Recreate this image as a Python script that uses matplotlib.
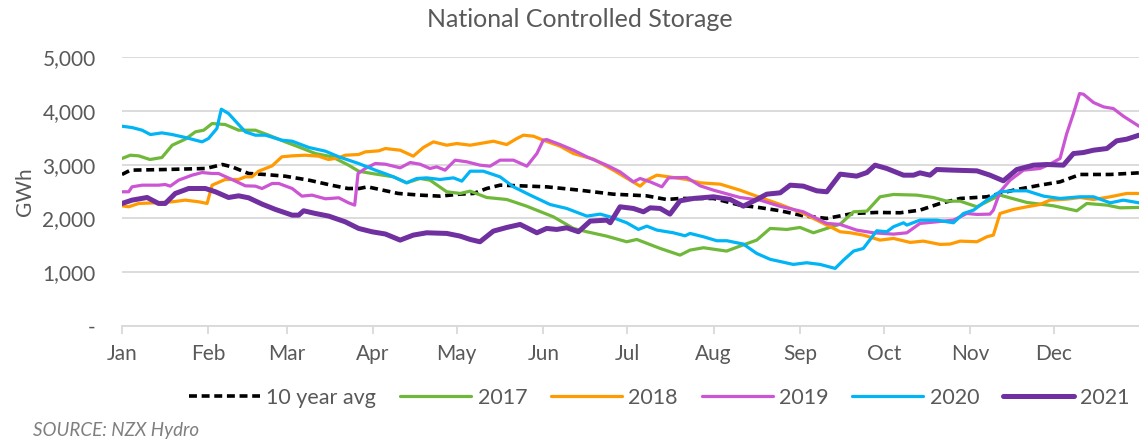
import matplotlib
matplotlib.use("Agg")
import matplotlib.pyplot as plt
from matplotlib.ticker import FuncFormatter

# ---- data (day of year, GWh) ----
avg_day = [0, 3, 15.5, 30, 36, 39.4, 45.4, 51.4, 58.5, 67, 75, 81, 85, 88, 99, 106.8, 114, 121, 126, 130.7, 135.5,
           142.7, 152.2, 164, 176, 188, 195.2, 200, 212, 221.5, 228.7, 235.9, 244.2, 252.6, 262, 270.5, 278.9, 286,
           293.2, 300.4, 310, 319.5, 329, 336.2, 343.4, 354.2, 364.5]
avg_val = [2817, 2897, 2909, 2928, 3002, 2959, 2835, 2816, 2785, 2711, 2618, 2556, 2556, 2587, 2464, 2433, 2414, 2451,
           2464, 2556, 2618, 2606, 2587, 2525, 2451, 2420, 2352, 2371, 2371, 2247, 2200, 2142, 2049, 2000, 2092, 2111,
           2105, 2154, 2278, 2371, 2402, 2525, 2618, 2680, 2817, 2817, 2847]

y2017_day = [0, 3, 6, 10, 14.3, 18, 22.7, 26.3, 29.3, 32.3, 37, 41.8, 47.8, 52.6, 58.5, 63.3, 69.3, 75.3, 81.2, 84.8,
             89.6, 97.3, 102, 106.8, 110.4, 116.4, 121.2, 124.8, 130.7, 137.9, 145, 154.6, 161.8, 166.6, 173.7, 180.9,
             184.5, 192.9, 200, 203.6, 208.4, 216.7, 221.5, 227.5, 232.3, 238.3, 243, 247.8, 252.6, 257.4, 262.2,
             267, 271.7, 276.5, 284.9, 290.8, 295.6, 300.4, 306.4, 312.3, 314.7, 324.3, 333.8, 342.2, 345.8, 353,
             357.7, 364.5]
y2017_val = [3114, 3175, 3163, 3095, 3132, 3361, 3473, 3609, 3640, 3764, 3745, 3640, 3640, 3547, 3423, 3330, 3206,
             3145, 2990, 2878, 2835, 2773, 2662, 2742, 2711, 2495, 2464, 2507, 2389, 2352, 2228, 2030, 1814, 1752,
             1671, 1566, 1609, 1442, 1318, 1411, 1455, 1393, 1486, 1597, 1814, 1795, 1832, 1733, 1814, 1894, 2123,
             2136, 2402, 2445, 2433, 2389, 2321, 2321, 2216, 2371, 2433, 2297, 2235, 2142, 2278, 2247, 2197, 2204]

y2018_day = [0, 2.4, 6, 12, 18, 22.7, 27.5, 30.5, 32.3, 37, 41.8, 44.2, 46.6, 49, 53.8, 56, 57.3, 61, 65.7, 70.5, 74,
             77.7, 80, 84.8, 87.2, 92, 94.4, 99.7, 104.4, 108, 111.6, 116.4, 120, 124.8, 128.3, 133.1, 137.9, 141.5,
             143.9, 147.5, 151, 157, 161.8, 169, 176.1, 182.1, 185.7, 188.1, 191.7, 197.6, 202.4, 207.2, 214.4,
             221.5, 228.7, 235.9, 244.2, 252.6, 257.4, 261, 265.7, 271.7, 276.5, 282.5, 287.2, 293.2, 296.8, 300.4,
             306.4, 310, 312.3, 314.7, 319.5, 324.3, 329, 332.6, 338.6, 343.4, 348.2, 354.2, 360.1, 364.5]
y2018_val = [2235, 2216, 2278, 2290, 2309, 2340, 2309, 2278, 2618, 2724, 2724, 2773, 2773, 2878, 2977, 3083, 3145,
             3163, 3175, 3157, 3095, 3126, 3175, 3188, 3237, 3256, 3299, 3268, 3157, 3318, 3423, 3361, 3392, 3361,
             3392, 3435, 3373, 3485, 3547, 3528, 3454, 3343, 3206, 3101, 2897, 2711, 2600, 2711, 2804, 2761, 2724,
             2662, 2637, 2525, 2390, 2260, 2092, 1876, 1752, 1733, 1690, 1597, 1628, 1554, 1578, 1517, 1523, 1578,
             1566, 1659, 1690, 2092, 2167, 2216, 2259, 2340, 2358, 2389, 2352, 2402, 2464, 2464]

y2019_day = [0, 2.4, 3.6, 7.2, 13.1, 15.5, 17.3, 20.3, 25.1, 28.7, 32.3, 34.6, 39.4, 44.2, 47.8, 50.2, 53.8, 56.2, 61,
             64.5, 68.1, 72.9, 77.7, 81.2, 83.4, 84.6, 87.2, 90.8, 94.4, 99.7, 103.3, 106.8, 110.4, 112.8, 115.8,
             119.4, 123.6, 128.3, 131.9, 135.5, 140.3, 145.1, 148.7, 151, 152.2, 157, 161.8, 166.6, 173.7, 178.5,
             183.3, 185.7, 189.3, 193.5, 195.9, 202.4, 207.2, 212, 221.5, 228.7, 235.9, 244.2, 252.6, 257.4, 263.3,
             269.3, 276.5, 281.3, 286, 292, 298, 302.8, 306.4, 311.1, 312.3, 314.7, 318.3, 323.1, 329, 332.6, 336.2,
             338.6, 341, 343.2, 344.6, 348.2, 351.8, 355.3, 358.9, 364.5]
y2019_val = [2495, 2495, 2587, 2618, 2618, 2630, 2600, 2711, 2804, 2853, 2835, 2835, 2724, 2606, 2600, 2556, 2649,
             2649, 2556, 2414, 2433, 2365, 2383, 2290, 2247, 2835, 2928, 3021, 3008, 2940, 3039, 3008, 2928, 2959,
             2897, 3083, 3052, 2990, 2971, 3083, 3083, 2971, 3206, 3454, 3466, 3373, 3268, 3145, 2990, 2866, 2680,
             2742, 2680, 2587, 2754, 2761, 2606, 2525, 2389, 2340, 2225, 2123, 1907, 1888, 1783, 1733, 1708, 1733,
             1907, 1937, 1968, 2092, 2074, 2080, 2154, 2495, 2711, 2897, 2928, 3008, 3114, 3578, 3949, 4321, 4308,
             4154, 4073, 4042, 3900, 3714]

y2020_day = [0, 3.6, 7.2, 10.2, 14.3, 18, 22.7, 28.7, 31, 34, 35.6, 38.2, 44.2, 47.8, 51.4, 57.3, 61, 67, 72.9, 77.7,
             84.8, 90.8, 94.4, 97.3, 102, 105.6, 109.2, 114, 118.8, 121.8, 124.8, 129.5, 135.5, 140.3, 146.3, 153.4,
             159.4, 166.6, 171.4, 176.1, 180.9, 185.1, 188.1, 191.7, 197.6, 201.8, 203.6, 208.4, 213.2, 216.8,
             222.7, 227.5, 232.3, 240.6, 245.4, 250.2, 255.6, 258.6, 262.2, 265.7, 270.5, 274.1, 276.5, 280.1,
             281.3, 286, 292, 298, 301.6, 305.2, 310, 314.7, 319.5, 324.3, 330.3, 336.2, 343.4, 348.2, 354.2, 358.9,
             364.5]
y2020_val = [3714, 3689, 3640, 3559, 3590, 3559, 3504, 3423, 3485, 3671, 4030, 3949, 3609, 3547, 3547, 3454, 3435,
             3318, 3250, 3145, 3021, 2897, 2830, 2773, 2662, 2742, 2754, 2724, 2754, 2693, 2878, 2878, 2773, 2587,
             2433, 2259, 2185, 2043, 2080, 2012, 1919, 1795, 1857, 1783, 1733, 1677, 1721, 1659, 1585, 1585, 1523,
             1349, 1240, 1145, 1176, 1145, 1071, 1226, 1393, 1442, 1770, 1752, 1845, 1919, 1876, 1968, 1968, 1919,
             2092, 2154, 2340, 2495, 2513, 2513, 2414, 2371, 2402, 2402, 2290, 2340, 2290]

y2021_day = [0, 3.6, 9, 13.1, 15.5, 19.1, 23.9, 29.9, 33.5, 38.2, 41.8, 45.4, 50.2, 55, 61, 63.3, 65.1, 69.3, 74.1, 80,
             84.8, 89.6, 94.4, 99.7, 104.4, 109.2, 116.4, 121.2, 124.8, 128.3, 133.1, 137.9, 142.7, 148.7, 152.2,
             155.8, 159.4, 163.6, 167.8, 173.7, 175, 178.5, 183.3, 186.9, 189.3, 192.9, 196.4, 200, 204.8, 212, 218,
             222.7, 227.5, 231.1, 235.9, 239.5, 244.2, 249, 252.6, 257.4, 263.3, 267, 269.9, 274.1, 280.1, 283.7, 286,
             289.6, 292, 298, 306.4, 311.1, 315.9, 320.7, 326.7, 331.5, 337.4, 341, 344.6, 348.2, 353, 356.5, 360.1,
             364.5]
y2021_val = [2278, 2340, 2389, 2278, 2278, 2464, 2556, 2556, 2495, 2389, 2420, 2383, 2266, 2167, 2061, 2061, 2142, 2092,
             2043, 1937, 1814, 1752, 1710, 1597, 1690, 1733, 1721, 1671, 1609, 1566, 1764, 1832, 1888, 1733, 1814, 1795,
             1826, 1752, 1950, 1968, 1919, 2216, 2185, 2123, 2197, 2185, 2080, 2327, 2371, 2402, 2352, 2228, 2352,
             2451, 2476, 2618, 2600, 2513, 2495, 2823, 2786, 2853, 2990, 2928, 2804, 2804, 2847, 2804, 2909, 2897,
             2884, 2804, 2699, 2909, 2990, 3002, 2990, 3206, 3225, 3268, 3299, 3442, 3473, 3547]

month_starts = [0, 31, 59, 90, 120, 151, 181, 212, 243, 273, 304, 334]
month_labels = ["Jan", "Feb", "Mar", "Apr", "May", "Jun", "Jul", "Aug", "Sep", "Oct", "Nov", "Dec"]
y_ticks = [0, 1000, 2000, 3000, 4000, 5000]

series = [
    ("10 year avg", avg_day, avg_val, "#000000", 2.6, (0, (2.2, 1.3))),
    ("2017", y2017_day, y2017_val, "#70B83A", 2.3, "-"),
    ("2018", y2018_day, y2018_val, "#FF9A00", 2.3, "-"),
    ("2019", y2019_day, y2019_val, "#CC55D4", 2.3, "-"),
    ("2020", y2020_day, y2020_val, "#00B4F5", 2.3, "-"),
    ("2021", y2021_day, y2021_val, "#7030A0", 3.6, "-"),
]

plt.rcParams['font.family'] = ['Lato', 'DejaVu Sans']
grey = "#595959"

fig = plt.figure(figsize=(11.39, 4.42), dpi=100)
ax = fig.add_axes([0.1071, 0.2624, 0.8929, 0.6086])

handles = {}
for name, d, v, c, lw, ls in series[1:]:
    h, = ax.plot(d, v, color=c, lw=lw, ls=ls, solid_capstyle='round', label=name, zorder=3)
    handles[name] = h
name, d, v, c, lw, ls = series[0]
h, = ax.plot(d, v, color=c, lw=lw, ls=ls, label=name, zorder=2.5)
handles[name] = h

ax.set_xlim(0, 364.5)
ax.set_ylim(0, 5000)
ax.set_yticks(y_ticks)
ax.yaxis.set_major_formatter(FuncFormatter(lambda x, p: "-" if x == 0 else f"{int(x):,}"))
ax.set_xticks(month_starts)
ax.set_xticklabels(month_labels)
ax.grid(axis='y', color="#D9D9D9", lw=1.3)
ax.set_axisbelow(True)
for s in ["top", "right", "left"]:
    ax.spines[s].set_visible(False)
ax.spines["bottom"].set_color("#D9D9D9")
ax.spines["bottom"].set_linewidth(1.3)
ax.tick_params(axis='y', length=0, labelsize=15, labelcolor=grey, pad=19)
ax.tick_params(axis='x', length=6, width=1.3, color="#D9D9D9", labelsize=15, labelcolor=grey, pad=7)
ax.set_ylabel("GWh", fontsize=15, color=grey, labelpad=5)

fig.text(0.509, 0.955, "National Controlled Storage", ha='center', va='center', fontsize=18, color=grey)

order = ["10 year avg", "2017", "2018", "2019", "2020", "2021"]
leg = fig.legend([handles[k] for k in order], order, loc='center', bbox_to_anchor=(0.579, 0.10), ncol=6,
                 frameon=False, fontsize=15.5, handlelength=3.3, columnspacing=1.1, handletextpad=0.3)
for t in leg.get_texts():
    t.set_color(grey)

fig.text(0.029, 0.026, "SOURCE: NZX Hydro", fontsize=13.5, style='italic', color="#7F7F7F", ha='left', va='center')

fig.savefig("out.png", dpi=100)
